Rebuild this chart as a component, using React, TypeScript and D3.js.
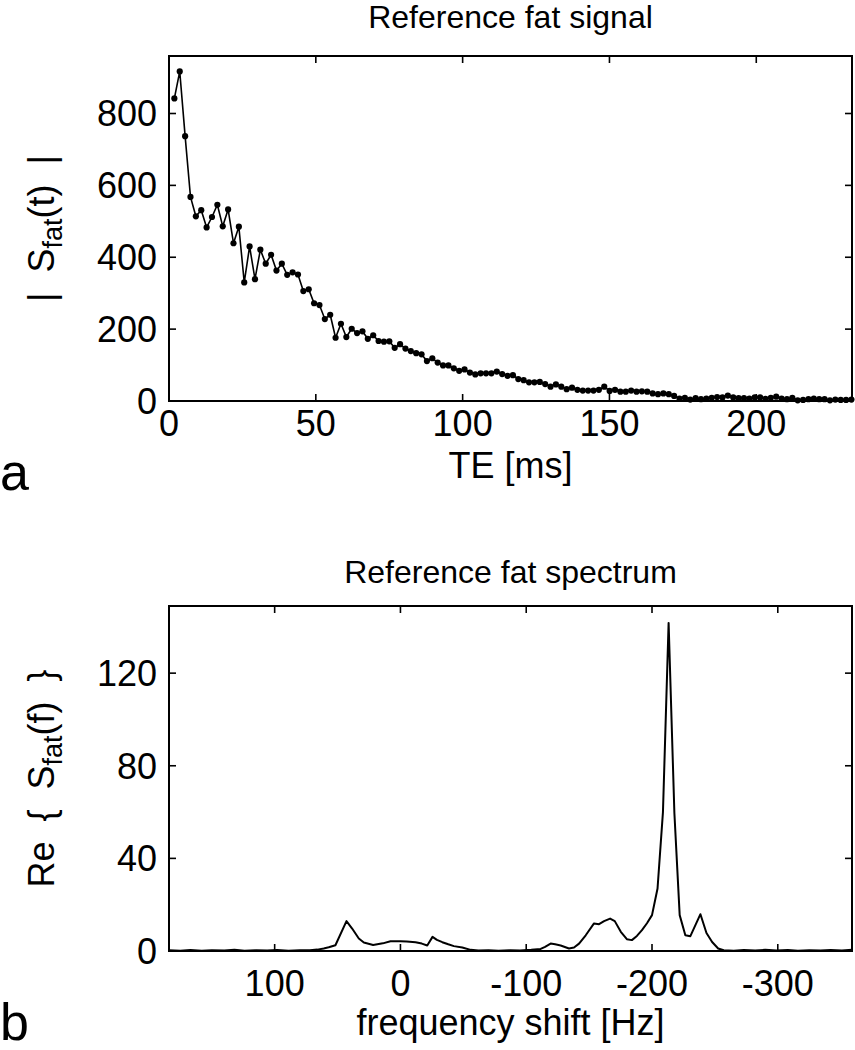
import React from "react";
import * as d3 from "d3";

// ---------- data ----------
// echo times [ms] of the reference fat signal samples
const teValues: number[] = [
  1.83, 3.66, 5.49, 7.32, 9.15, 10.98, 12.81, 14.64, 16.47, 18.3,
  20.13, 21.96, 23.79, 25.62, 27.45, 29.28, 31.11, 32.94, 34.77, 36.6,
  38.43, 40.26, 42.09, 43.92, 45.75, 47.58, 49.41, 51.24, 53.07, 54.9,
  56.73, 58.56, 60.39, 62.22, 64.05, 65.88, 67.71, 69.54, 71.37, 73.2,
  75.03, 76.86, 78.69, 80.52, 82.35, 84.18, 86.01, 87.84, 89.67, 91.5,
  93.33, 95.16, 96.99, 98.82, 100.65, 102.48, 104.31, 106.14, 107.97, 109.8,
  111.63, 113.46, 115.29, 117.12, 118.95, 120.78, 122.61, 124.44, 126.27, 128.1,
  129.93, 131.76, 133.59, 135.42, 137.25, 139.08, 140.91, 142.74, 144.57, 146.4,
  148.23, 150.06, 151.89, 153.72, 155.55, 157.38, 159.21, 161.04, 162.87, 164.7,
  166.53, 168.36, 170.19, 172.02, 173.85, 175.68, 177.51, 179.34, 181.17, 183.0,
  184.83, 186.66, 188.49, 190.32, 192.15, 193.98, 195.81, 197.64, 199.47, 201.3,
  203.13, 204.96, 206.79, 208.62, 210.45, 212.28, 214.11, 215.94, 217.77, 219.6,
  221.43, 223.26, 225.09, 226.92, 228.75, 230.58, 232.41,
];
// |S_fat(t)|
const signalValues: number[] = [
  842, 917, 737, 568, 514, 531, 483, 512, 546, 486,
  533, 439, 485, 330, 430, 339, 421, 382, 407, 363,
  382, 351, 358, 352, 306, 311, 272, 267, 228, 240,
  176, 215, 178, 201, 189, 194, 173, 183, 167, 165,
  166, 148, 158, 146, 139, 133, 130, 111, 119, 107,
  99, 99, 91, 84, 88, 79, 74, 77, 77, 77,
  82, 75, 70, 72, 61, 58, 52, 52, 53, 47,
  40, 46, 40, 33, 37, 31, 29, 29, 29, 31,
  40, 28, 31, 26, 26, 29, 26, 27, 26, 21,
  19, 21, 19, 14, 7, 9, 4, 8, 5, 7,
  9, 11, 10, 15, 10, 8, 8, 7, 10, 10,
  6, 9, 12, 7, 5, 9, 2, 3, 5, 7,
  5, 5, 2, 4, 3, 3, 4,
];
const signalXTicks: number[] = [0, 50, 100, 150, 200];
const signalYTicks: number[] = [0, 200, 400, 600, 800];

// spectrum vertices: frequency shift [Hz] and Re{S_fat(f)}
const specFreq: number[] = [
  184, 175, 167, 158, 150, 140, 132, 124, 115, 106, 98, 89, 80, 72, 66, 61, 57,
  51.7, 42.9, 38.4, 33.1, 29.1, 21.7, 14, 7.9, 0, -5, -12, -17, -21.3, -25.5,
  -29, -33.3, -38, -42.5, -49.2, -55.8, -62, -70, -78, -87, -95, -104, -111.5,
  -115, -119.4, -123, -127.4, -134, -138, -142, -147.3, -153.9, -157.9, -161.9,
  -166.7, -170.4, -175.2, -180, -184, -188, -192, -196, -200, -204.4, -208.7,
  -213.2, -217.8, -222, -226.5, -230.5, -238.5, -243.3, -247.8, -252.6, -257,
  -265, -273, -282, -290, -299, -308, -316, -325, -334, -342, -351, -359,
];
const specValues: number[] = [
  0.3, 0.1, 0.4, 0.1, 0.3, 0.2, 0.5, 0.1, 0.3, 0.2, 0.4, 0.1, 0.3, 0.3, 0.6, 1.1, 1.6,
  2.5, 12.9, 9.7, 5.4, 3.7, 2.6, 3.3, 4.2, 4.2, 4.1, 3.8, 3.2, 2.4, 6.1,
  4.8, 3.8, 2.9, 2.1, 1.5, 0.5, 0.2, 0.3, 0.1, 0.3, 0.2, 0.5, 0.9,
  1.8, 3.2, 2.9, 2.4, 1.1, 1.5, 3.2, 6.8, 11.9, 11.6, 12.9,
  14, 12.9, 8.3, 5.1, 4.7, 6.5, 9, 12, 15.5, 27, 60,
  141.7, 59.5, 15.5, 6.8, 6.4, 15.9, 7.8, 3.9, 1.1, 0.3,
  0.1, 0.4, 0.2, 0.5, 0.2, 0.4, 0.1, 0.3, 0.2, 0.4, 0.2, 0.5,
];
const specXTicks: number[] = [100, 0, -100, -200, -300];
const specYTicks: number[] = [0, 40, 80, 120];

// ---------- layout ----------
const W = 855;
const H = 1050;
const FONT = "'Liberation Sans', Arial, Helvetica, sans-serif";
const LEFT = 169;
const RIGHT = 852;
const TICK = 7;
const TICK_FS = 36;
const LABEL_FS = 36;
const TITLE_FS = 32;

const fmt = (v: number) => (v < 0 ? "-" + Math.abs(v) : String(v));

type FrameProps = {
  x: d3.ScaleLinear<number, number>;
  y: d3.ScaleLinear<number, number>;
  xTicks: number[];
  yTicks: number[];
  top: number;
  bottom: number;
  xLabelY: number;
};

function Frame({ x, y, xTicks, yTicks, top, bottom, xLabelY }: FrameProps) {
  return (
    <g>
      {xTicks.map((t) => (
        <g key={"x" + t}>
          <line x1={x(t)} x2={x(t)} y1={bottom} y2={bottom - TICK} stroke="#000" strokeWidth={1.6} />
          <line x1={x(t)} x2={x(t)} y1={top} y2={top + TICK} stroke="#000" strokeWidth={1.6} />
          <text x={x(t)} y={xLabelY} textAnchor="middle" fontSize={TICK_FS} fontFamily={FONT}>
            {fmt(t)}
          </text>
        </g>
      ))}
      {yTicks.map((t) => (
        <g key={"y" + t}>
          <line x1={LEFT} x2={LEFT + TICK} y1={y(t)} y2={y(t)} stroke="#000" strokeWidth={1.6} />
          <line x1={RIGHT} x2={RIGHT - TICK} y1={y(t)} y2={y(t)} stroke="#000" strokeWidth={1.6} />
          <text x={157} y={y(t)} dy="0.36em" textAnchor="end" fontSize={TICK_FS} fontFamily={FONT}>
            {fmt(t)}
          </text>
        </g>
      ))}
      <rect x={LEFT} y={top} width={RIGHT - LEFT} height={bottom - top} fill="none" stroke="#000" strokeWidth={2} />
    </g>
  );
}

export default function App() {
  // top panel
  const t1 = 56;
  const b1 = 401;
  const x1 = d3.scaleLinear().domain([0, 232.6]).range([LEFT, RIGHT]);
  const y1 = d3.scaleLinear().domain([0, 960]).range([b1, t1]);
  const sig = teValues.map((t, i) => [t, signalValues[i]] as [number, number]);
  const sigLine = d3
    .line<[number, number]>()
    .x((d) => x1(d[0]))
    .y((d) => y1(d[1]));

  // bottom panel
  const t2 = 606;
  const b2 = 951;
  const x2 = d3.scaleLinear().domain([184, -359]).range([LEFT, RIGHT]);
  const y2 = d3.scaleLinear().domain([0, 149]).range([b2, t2]);
  const spec = specFreq.map((f, i) => [f, specValues[i]] as [number, number]);
  const specLine = d3
    .line<[number, number]>()
    .x((d) => x2(d[0]))
    .y((d) => y2(d[1]));

  const cx = (LEFT + RIGHT) / 2;
  const pre = { whiteSpace: "pre" as const };

  return (
    <svg
      width={W}
      height={H}
      viewBox={`0 0 ${W} ${H}`}
      style={{ position: "absolute", left: 0, top: 0, background: "#fff" }}
    >
      <rect x={0} y={0} width={W} height={H} fill="#fff" />

      {/* ----- panel a ----- */}
      <text x={cx} y={28} textAnchor="middle" fontSize={TITLE_FS} fontFamily={FONT}>
        Reference fat signal
      </text>
      <path d={sigLine(sig) || ""} fill="none" stroke="#000" strokeWidth={1.6} />
      {sig.map((d, i) => (
        <circle key={i} cx={x1(d[0])} cy={y1(d[1])} r={3.1} fill="#000" />
      ))}
      <Frame x={x1} y={y1} xTicks={signalXTicks} yTicks={signalYTicks} top={t1} bottom={b1} xLabelY={436} />
      <text x={cx} y={478} textAnchor="middle" fontSize={LABEL_FS} fontFamily={FONT}>
        TE [ms]
      </text>
      <text
        transform={`translate(54, ${(t1 + b1) / 2}) rotate(-90)`}
        textAnchor="middle"
        fontSize={LABEL_FS}
        fontFamily={FONT}
        style={pre}
      >
        {"|  S"}
        <tspan fontSize={27} dy={8}>fat</tspan>
        <tspan dy={-8}>{"(t)  |"}</tspan>
      </text>
      <text x={0} y={490} fontSize={52} fontFamily={FONT}>
        a
      </text>

      {/* ----- panel b ----- */}
      <text x={cx} y={583} textAnchor="middle" fontSize={TITLE_FS} fontFamily={FONT}>
        Reference fat spectrum
      </text>
      <path d={specLine(spec) || ""} fill="none" stroke="#000" strokeWidth={2} strokeLinejoin="round" />
      <Frame x={x2} y={y2} xTicks={specXTicks} yTicks={specYTicks} top={t2} bottom={b2} xLabelY={996} />
      <text x={cx} y={1035} textAnchor="middle" fontSize={LABEL_FS} fontFamily={FONT}>
        frequency shift [Hz]
      </text>
      <text
        transform={`translate(54, ${(t2 + b2) / 2}) rotate(-90)`}
        textAnchor="middle"
        fontSize={LABEL_FS}
        fontFamily={FONT}
        style={pre}
      >
        {"Re  {  S"}
        <tspan fontSize={27} dy={8}>fat</tspan>
        <tspan dy={-8}>{"(f)  }"}</tspan>
      </text>
      <text x={0} y={1040} fontSize={52} fontFamily={FONT}>
        b
      </text>
    </svg>
  );
}
